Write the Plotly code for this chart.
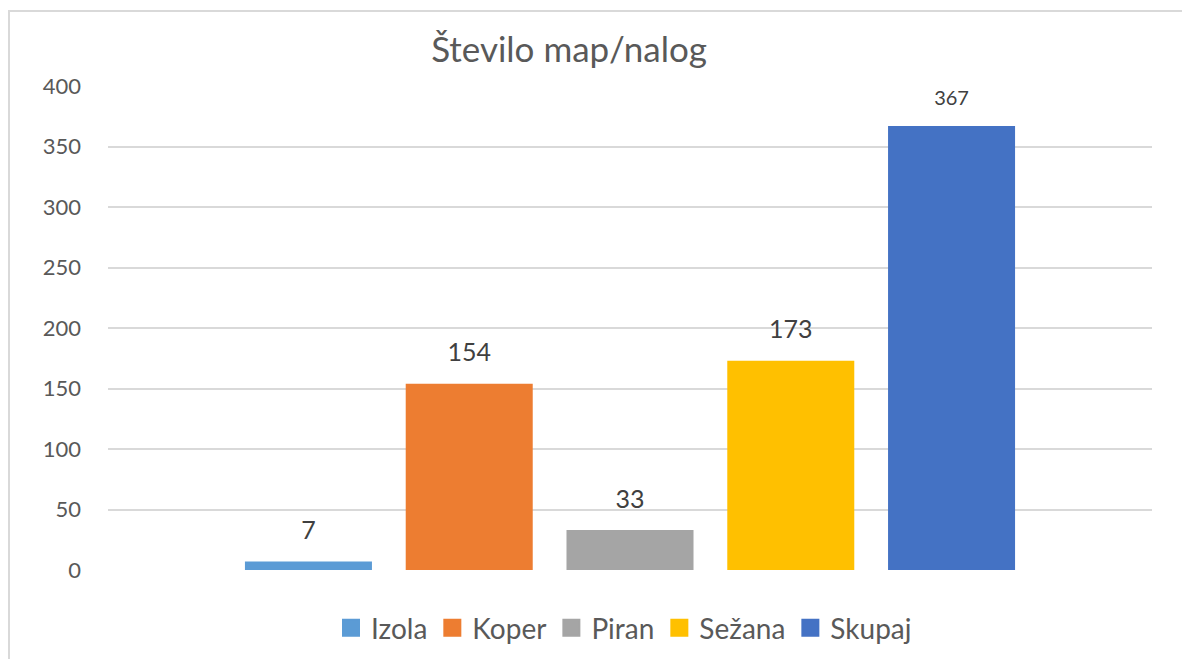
import plotly.graph_objects as go

series_names = ["Izola", "Koper", "Piran", "Sežana", "Skupaj"]
series_values = [7, 154, 33, 173, 367]
series_colors = ["#5B9BD5", "#ED7D31", "#A5A5A5", "#FFC000", "#4472C4"]
label_sizes = [25, 25, 25, 25, 20]
category = [""]
title_text = "Število map/nalog"
y_ticks = [0, 50, 100, 150, 200, 250, 300, 350, 400]

FONT = "Lato, 'Open Sans', sans-serif"

fig = go.Figure()
# bars
for name, val, col in zip(series_names, series_values, series_colors):
    fig.add_trace(go.Bar(
        x=category, y=[val], name=name, showlegend=False,
        marker=dict(color=col, line=dict(width=0)),
    ))
# data labels (grouped scatter, aligned with bars)
for name, val, sz in zip(series_names, series_values, label_sizes):
    fig.add_trace(go.Scatter(
        x=category, y=[val], mode="markers+text", showlegend=False,
        text=[str(val)], textposition="top center",
        textfont=dict(size=sz, color="#404040", family=FONT),
        marker=dict(size=24, color="rgba(0,0,0,0)"),
        hoverinfo="skip", cliponaxis=False,
    ))
# legend entries (on a hidden overlay axis so they don't affect grouping)
for name, col in zip(series_names, series_colors):
    fig.add_trace(go.Scatter(
        x=[None], y=[None], mode="markers", name=name,
        marker=dict(symbol="square", size=16, color=col,
                    line=dict(color=col, width=2)),
        xaxis="x2", yaxis="y2",
    ))

W, H = 1182, 651
L, R, T, B = 100, 38, 78, 89
pw, ph = W - L - R, H - T - B

def px_x(x):
    return (x - L) / pw

def px_y(y):
    return 1 - (y - T) / ph

fig.update_layout(
    width=W, height=H,
    margin=dict(l=L, r=R, t=T, b=B, autoexpand=False),
    paper_bgcolor="white", plot_bgcolor="white",
    barmode="group", bargap=0.23, bargroupgap=0.21,
    scattermode="group", scattergap=0.23,
    title=dict(text=title_text, x=561 / W, xanchor="center",
               y=1 - 42 / H, yanchor="middle",
               font=dict(size=35, color="#595959", family=FONT)),
    font=dict(family=FONT, color="#595959"),
    showlegend=True,
    legend=dict(orientation="h", x=px_x(616), xanchor="center",
                y=px_y(620), yanchor="middle",
                font=dict(size=28, color="#595959", family=FONT),
                traceorder="normal", itemclick=False),
    xaxis=dict(showticklabels=False, showgrid=False, zeroline=False,
               showline=False, ticks=""),
    yaxis=dict(range=[0, 400], tickvals=y_ticks, showgrid=True,
               gridcolor="#D9D9D9", gridwidth=1.5, zeroline=False,
               showline=False, ticks="", ticklabelstandoff=26,
               tickfont=dict(size=22, color="#595959", family=FONT)),
    xaxis2=dict(overlaying="x", visible=False, range=[0, 1]),
    yaxis2=dict(overlaying="y", visible=False, range=[0, 1]),
    shapes=[
        dict(type="line", xref="paper", yref="paper",
             x0=px_x(1), x1=px_x(1), y0=px_y(3), y1=px_y(670),
             line=dict(color="#D9D9D9", width=2)),
        dict(type="line", xref="paper", yref="paper",
             x0=px_x(0), x1=px_x(1200), y0=px_y(3), y1=px_y(3),
             line=dict(color="#D9D9D9", width=2)),
    ],
)

fig.write_html("out.html")
